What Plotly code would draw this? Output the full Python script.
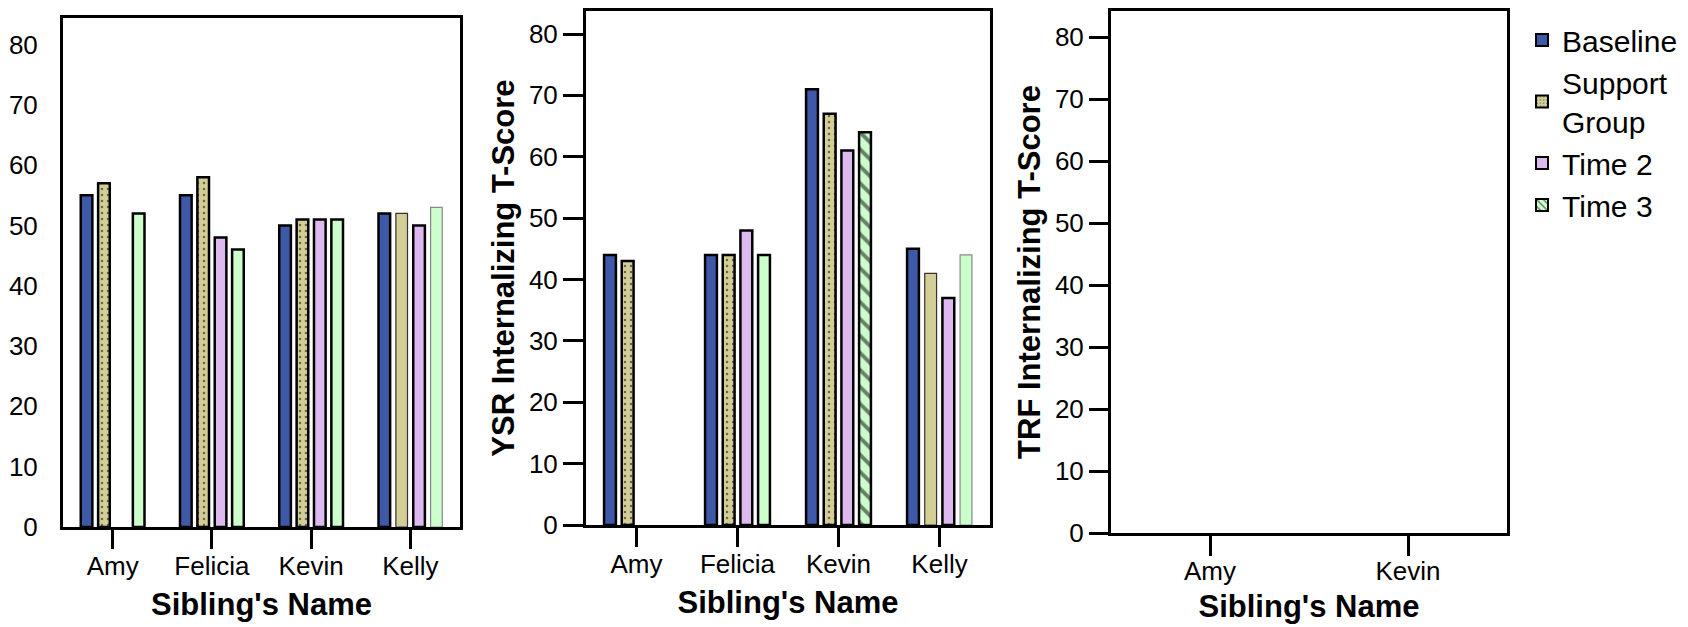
import plotly.graph_objects as go

# ---------------- data ----------------
categories = ["Amy", "Felicia", "Kevin", "Kelly"]
trf_categories = ["Amy", "Kevin"]
series_names = ["Baseline", "Support<br>Group", "Time 2", "Time 3"]

# Panel 1 (no y title)
p1_baseline = [55, 55, 50, 52]
p1_support = [57, 58, 51, 52]
p1_time2 = [None, 48, 51, 50]
p1_time3 = [52, 46, 51, 53]

# Panel 2: YSR Internalizing T-Score
ysr_baseline = [44, 44, 71, 45]
ysr_support = [43, 44, 67, 41]
ysr_time2 = [None, 48, 61, 37]
ysr_time3 = [None, 44, 64, 44]

# Panel 3: TRF Internalizing T-Score (no bars shown)
trf_baseline = [None, None]
trf_support = [None, None]
trf_time2 = [None, None]
trf_time3 = [None, None]

y_ticks = [0, 10, 20, 30, 40, 50, 60, 70, 80]
x_title = "Sibling's Name"
ysr_title = "YSR Internalizing T-Score"
trf_title = "TRF Internalizing T-Score"

# ---------------- styles ----------------
COLORS = ["#3F59A9", "#D3CD96", "#DDB9F0", "#CCFFCC"]
FONT = "Arial, Liberation Sans, sans-serif"
W, H = 1688, 627
OFF = 8  # page body margin: figure origin sits 8px right/down in the page

p1_patterns = [["", "", "", ""], [".", ".", ".", ""], ["", "", "", ""], ["", "", "", ""]]
p2_patterns = [["", "", "", ""], [".", ".", ".", ""], ["", "", "", ""], ["", "", "\\", ""]]
legend_patterns = ["", ".", "", "\\"]
line_w = [[2.5, 2.5, 2.5, 2.5], [2.5, 2.5, 2.5, 1.2], [2.5, 2.5, 2.5, 2.5], [2.5, 2.5, 2.5, 1.2]]
line_c = [["black"] * 4, ["black", "black", "black", "#333333"], ["black"] * 4,
          ["black", "black", "black", "#888888"]]

fig = go.Figure()


def pattern(shapes):
    return dict(shape=shapes, fgcolor="black", size=[6 if s == "." else 12 for s in shapes],
                solidity=[0.14 if s == "." else 0.32 for s in shapes])


panel1 = [p1_baseline, p1_support, p1_time2, p1_time3]
panel2 = [ysr_baseline, ysr_support, ysr_time2, ysr_time3]
panel3 = [trf_baseline, trf_support, trf_time2, trf_time3]

# panel 3 traces carry the legend
for i in range(4):
    shp = legend_patterns[i]
    fig.add_trace(go.Bar(
        x=trf_categories, y=panel3[i], name=series_names[i], legendgroup=str(i),
        showlegend=True, xaxis="x3", yaxis="y3",
        marker=dict(color=COLORS[i], line=dict(color="black", width=2),
                    pattern=dict(shape=shp, fgcolor="black",
                                 size=4 if shp == "." else 6,
                                 solidity=0.15 if shp == "." else 0.3)),
    ))

for i in range(4):
    fig.add_trace(go.Bar(
        x=categories, y=panel1[i], name=series_names[i], legendgroup=str(i),
        showlegend=False, xaxis="x", yaxis="y",
        marker=dict(color=COLORS[i], line=dict(color=line_c[i], width=line_w[i]),
                    pattern=pattern(p1_patterns[i])),
    ))
    fig.add_trace(go.Bar(
        x=categories, y=panel2[i], name=series_names[i], legendgroup=str(i),
        showlegend=False, xaxis="x2", yaxis="y2",
        marker=dict(color=COLORS[i], line=dict(color=line_c[i], width=line_w[i]),
                    pattern=pattern(p2_patterns[i])),
    ))


def dx(a, b):
    return [max(0, (a - OFF) / W), min(1, (b - OFF) / W)]


def dy(top, bottom):
    return [max(0, 1 - (bottom - OFF) / H), min(1, 1 - (top - OFF) / H)]


axis_common = dict(showline=True, linewidth=3, linecolor="black", mirror=True,
                   showgrid=False, zeroline=False, ticks="outside", tickwidth=3,
                   tickcolor="black", tickfont=dict(size=26, color="black"),
                   automargin=False)

xt = dict(text=x_title, font=dict(size=31, color="black", family=FONT, weight="bold"))

fig.update_layout(
    width=W, height=H, margin=dict(l=0, r=0, t=0, b=0, autoexpand=False),
    paper_bgcolor="white", plot_bgcolor="white",
    font=dict(family=FONT, color="black"),
    barmode="group", bargap=0.30, bargroupgap=0.33,
    xaxis=dict(axis_common, domain=dx(63, 460), anchor="y", type="category",
               categoryorder="array", categoryarray=categories, range=[-0.5, 3.5],
               ticklen=19, ticklabelstandoff=-5, title=dict(xt, standoff=14)),
    yaxis=dict(axis_common, domain=dy(18, 527), anchor="x", range=[0, 84.4],
               tickvals=y_ticks, ticklen=17, tickcolor="rgba(0,0,0,0)"),
    xaxis2=dict(axis_common, domain=dx(586, 990), anchor="y2", type="category",
                categoryorder="array", categoryarray=categories, range=[-0.5, 3.5],
                ticklen=19, ticklabelstandoff=-5, title=dict(xt, standoff=14)),
    yaxis2=dict(axis_common, domain=dy(11, 525), anchor="x2", range=[0, 83.75],
                tickvals=y_ticks, ticklen=20,
                title=dict(text=ysr_title, standoff=6,
                           font=dict(size=31, color="black", family=FONT, weight="bold"))),
    xaxis3=dict(axis_common, domain=dx(1111, 1507), anchor="y3", type="category",
                categoryorder="array", categoryarray=trf_categories, range=[-0.5, 1.5],
                ticklen=20, ticklabelstandoff=-7, title=dict(xt, standoff=11)),
    yaxis3=dict(axis_common, domain=dy(11, 533), anchor="x3", range=[0, 84.2],
                tickvals=y_ticks, ticklen=19,
                title=dict(text=trf_title, standoff=6,
                           font=dict(size=31, color="black", family=FONT, weight="bold"))),
    legend=dict(x=(1522 - OFF) / W, y=1 - (14 - OFF) / H, xanchor="left", yanchor="top",
                font=dict(size=30, color="black", family=FONT),
                bgcolor="rgba(0,0,0,0)", tracegroupgap=0, itemwidth=30),
)

fig.write_html("out.html")
